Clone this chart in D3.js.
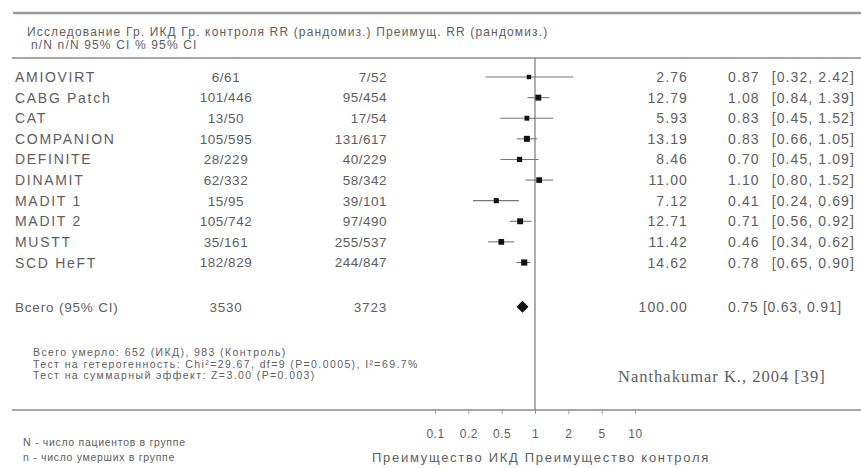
<!DOCTYPE html>
<html lang="ru">
<head>
<meta charset="utf-8" />
<script src="https://d3js.org/d3.v7.min.js"></script>
<style>
  body { margin: 0; background: #fff; }
  text { font-family: "Liberation Sans", Arial, sans-serif; fill: #5e5e5e; }
</style>
</head>
<body>
<script>
const w = 861;
const h = 468;

// data
const studies = ["AMIOVIRT", "CABG Patch", "CAT", "COMPANION", "DEFINITE", "DINAMIT", "MADIT 1", "MADIT 2", "MUSTT", "SCD HeFT"];
const icdGroup = ["6/61", "101/446", "13/50", "105/595", "28/229", "62/332", "15/95", "105/742", "35/161", "182/829"];
const ctrlGroup = ["7/52", "95/454", "17/54", "131/617", "40/229", "58/342", "39/101", "97/490", "255/537", "244/847"];
const weights = [2.76, 12.79, 5.93, 13.19, 8.46, 11.00, 7.12, 12.71, 11.42, 14.62];
const rr = [0.87, 1.08, 0.83, 0.83, 0.70, 1.10, 0.41, 0.71, 0.46, 0.78];
const ciLow = [0.32, 0.84, 0.45, 0.66, 0.45, 0.80, 0.24, 0.56, 0.34, 0.65];
const ciHigh = [2.42, 1.39, 1.52, 1.05, 1.09, 1.52, 0.69, 0.92, 0.62, 0.90];
const total = { label: "Всего (95% CI)", icd: "3530", ctrl: "3723", weight: 100.00, rr: 0.75, lo: 0.63, hi: 0.91 };
const tickLabels = ["0.1", "0.2", "0.5", "1", "2", "5", "10"];

const headerLines = [
  "Исследование Гр. ИКД Гр. контроля RR (рандомиз.) Преимущ. RR (рандомиз.)",
  "n/N n/N 95% CI % 95% CI"
];
const notes = [
  "Всего умерло: 652 (ИКД), 983 (Контроль)",
  "Тест на гетерогенность: Chi²=29.67, df=9 (P=0.0005), I²=69.7%",
  "Тест на суммарный эффект: Z=3.00 (P=0.003)"
];
const legendLines = ["N - число пациентов в группе", "n - число умерших в группе"];

const svg = d3.select("body").append("svg")
  .attr("width", w)
  .attr("height", h);

const x = d3.scaleLog().domain([0.1, 10]).range([435, 635]);
const xTicks = d3.scalePoint().domain(tickLabels).range([435, 635]);
const y = d3.scaleLinear().domain([0, 9]).range([77, 262.5]);
const totalY = y(11.15);

// rules
svg.append("line").attr("x1", 13).attr("x2", w).attr("y1", 13).attr("y2", 13)
  .attr("stroke", "#9a9a9a").attr("stroke-width", 2.5);
svg.append("line").attr("x1", 12).attr("x2", w).attr("y1", 58).attr("y2", 58)
  .attr("stroke", "#8a8a8a").attr("stroke-width", 1.3);

// header
svg.selectAll(".hdr").data(headerLines).enter().append("text")
  .attr("class", "hdr")
  .attr("x", (d, i) => i ? 31 : 27)
  .attr("y", (d, i) => 36 + i * 13)
  .style("font-size", "12px")
  .style("letter-spacing", "1.15px")
  .text(d => d);

// rows text
const rowFont = "13.5px";
const rows = svg.append("g");
rows.selectAll(".name").data(studies).enter().append("text")
  .attr("x", 15).attr("y", (d, i) => y(i)).attr("dy", "0.36em")
  .style("font-size", "14px").style("letter-spacing", "1.7px")
  .text(d => d);
rows.selectAll(".icd").data(icdGroup).enter().append("text")
  .attr("x", 226).attr("y", (d, i) => y(i)).attr("dy", "0.36em")
  .attr("text-anchor", "middle")
  .style("font-size", rowFont).style("letter-spacing", "0.5px")
  .text(d => d);
rows.selectAll(".ctrl").data(ctrlGroup).enter().append("text")
  .attr("x", 387).attr("y", (d, i) => y(i)).attr("dy", "0.36em")
  .attr("text-anchor", "end")
  .style("font-size", rowFont).style("letter-spacing", "0.5px")
  .text(d => d);
rows.selectAll(".wt").data(weights).enter().append("text")
  .attr("x", 688).attr("y", (d, i) => y(i)).attr("dy", "0.36em")
  .attr("text-anchor", "end")
  .style("font-size", "14px").style("letter-spacing", "1.1px")
  .text(d => d.toFixed(2));
rows.selectAll(".rr").data(rr).enter().append("text")
  .attr("x", 728).attr("y", (d, i) => y(i)).attr("dy", "0.36em")
  .style("font-size", "14px").style("letter-spacing", "1.1px")
  .text(d => d.toFixed(2));
rows.selectAll(".ci").data(ciLow).enter().append("text")
  .attr("x", 855).attr("y", (d, i) => y(i)).attr("dy", "0.36em")
  .attr("text-anchor", "end")
  .style("font-size", "14px").style("letter-spacing", "1.1px")
  .text((d, i) => `[${d.toFixed(2)}, ${ciHigh[i].toFixed(2)}]`);

// total row
const tot = svg.append("g").style("font-size", rowFont).style("letter-spacing", "0.8px");
tot.append("text").attr("x", 15).attr("y", totalY).attr("dy", "0.36em").text(total.label);
tot.append("text").attr("x", 226).attr("y", totalY).attr("dy", "0.36em").attr("text-anchor", "middle").text(total.icd);
tot.append("text").attr("x", 387).attr("y", totalY).attr("dy", "0.36em").attr("text-anchor", "end").text(total.ctrl);
tot.append("text").attr("x", 688).attr("y", totalY).attr("dy", "0.36em").attr("text-anchor", "end")
  .style("font-size", "14px").style("letter-spacing", "1.1px").text(total.weight.toFixed(2));
tot.append("text").attr("x", 728).attr("y", totalY).attr("dy", "0.36em")
  .style("font-size", "14px").style("letter-spacing", "0.75px")
  .text(`${total.rr.toFixed(2)} [${total.lo.toFixed(2)}, ${total.hi.toFixed(2)}]`);

// axis
const axis = svg.append("g")
  .attr("transform", "translate(0, 410)")
  .call(d3.axisBottom(xTicks).tickSize(4).tickPadding(15));
axis.select(".domain").remove();
axis.selectAll(".tick line").attr("stroke", "#999");
axis.selectAll(".tick text").style("font-size", "12px").style("font-family", "Liberation Sans, Arial, sans-serif")
  .attr("fill", "#5e5e5e").style("letter-spacing", "0.5px");
svg.append("line").attr("x1", 12).attr("x2", w).attr("y1", 410).attr("y2", 410)
  .attr("stroke", "#8a8a8a").attr("stroke-width", 1.3);

// line of no effect
svg.append("line").attr("x1", x(1)).attr("x2", x(1)).attr("y1", 58).attr("y2", 410)
  .attr("stroke", "#7a7a7a").attr("stroke-width", 1.2);

// confidence intervals and squares
const marks = svg.append("g");
marks.selectAll(".ciline").data(rr).enter().append("line")
  .attr("x1", (d, i) => x(ciLow[i])).attr("x2", (d, i) => x(ciHigh[i]))
  .attr("y1", (d, i) => y(i)).attr("y2", (d, i) => y(i))
  .attr("stroke", "#777").attr("stroke-width", 1.1);
marks.selectAll(".box").data(rr).enter().append("rect")
  .attr("x", (d, i) => x(d) - (4 + weights[i] * 0.15) / 2)
  .attr("y", (d, i) => y(i) - (4 + weights[i] * 0.15) / 2)
  .attr("width", (d, i) => 4 + weights[i] * 0.15)
  .attr("height", (d, i) => 4 + weights[i] * 0.15)
  .attr("fill", "#111");
marks.append("path")
  .attr("d", `M${x(total.rr) - 5},${totalY} L${x(total.rr)},${totalY - 5} L${x(total.rr) + 5},${totalY} L${x(total.rr)},${totalY + 5}Z`)
  .attr("fill", "#111").attr("stroke", "#111").attr("stroke-width", 1.5).attr("stroke-linejoin", "round");

// notes
svg.selectAll(".note").data(notes).enter().append("text")
  .attr("x", 33).attr("y", (d, i) => 356 + i * 11.5)
  .style("font-size", "10.5px").style("letter-spacing", "1.4px")
  .text(d => d);

svg.append("text")
  .attr("x", 618).attr("y", 382)
  .style("font-family", "Liberation Serif, Times New Roman, serif")
  .style("font-size", "16.5px")
  .style("letter-spacing", "1px")
  .text("Nanthakumar K., 2004 [39]");

svg.selectAll(".legend").data(legendLines).enter().append("text")
  .attr("x", 23).attr("y", (d, i) => 446 + i * 15)
  .style("font-size", "10.5px").style("letter-spacing", "0.7px")
  .text(d => d);

svg.append("text")
  .attr("x", 541).attr("y", 462)
  .attr("text-anchor", "middle")
  .style("font-size", "13px").style("letter-spacing", "1.7px")
  .text("Преимущество ИКД Преимущество контроля");
</script>
</body>
</html>
